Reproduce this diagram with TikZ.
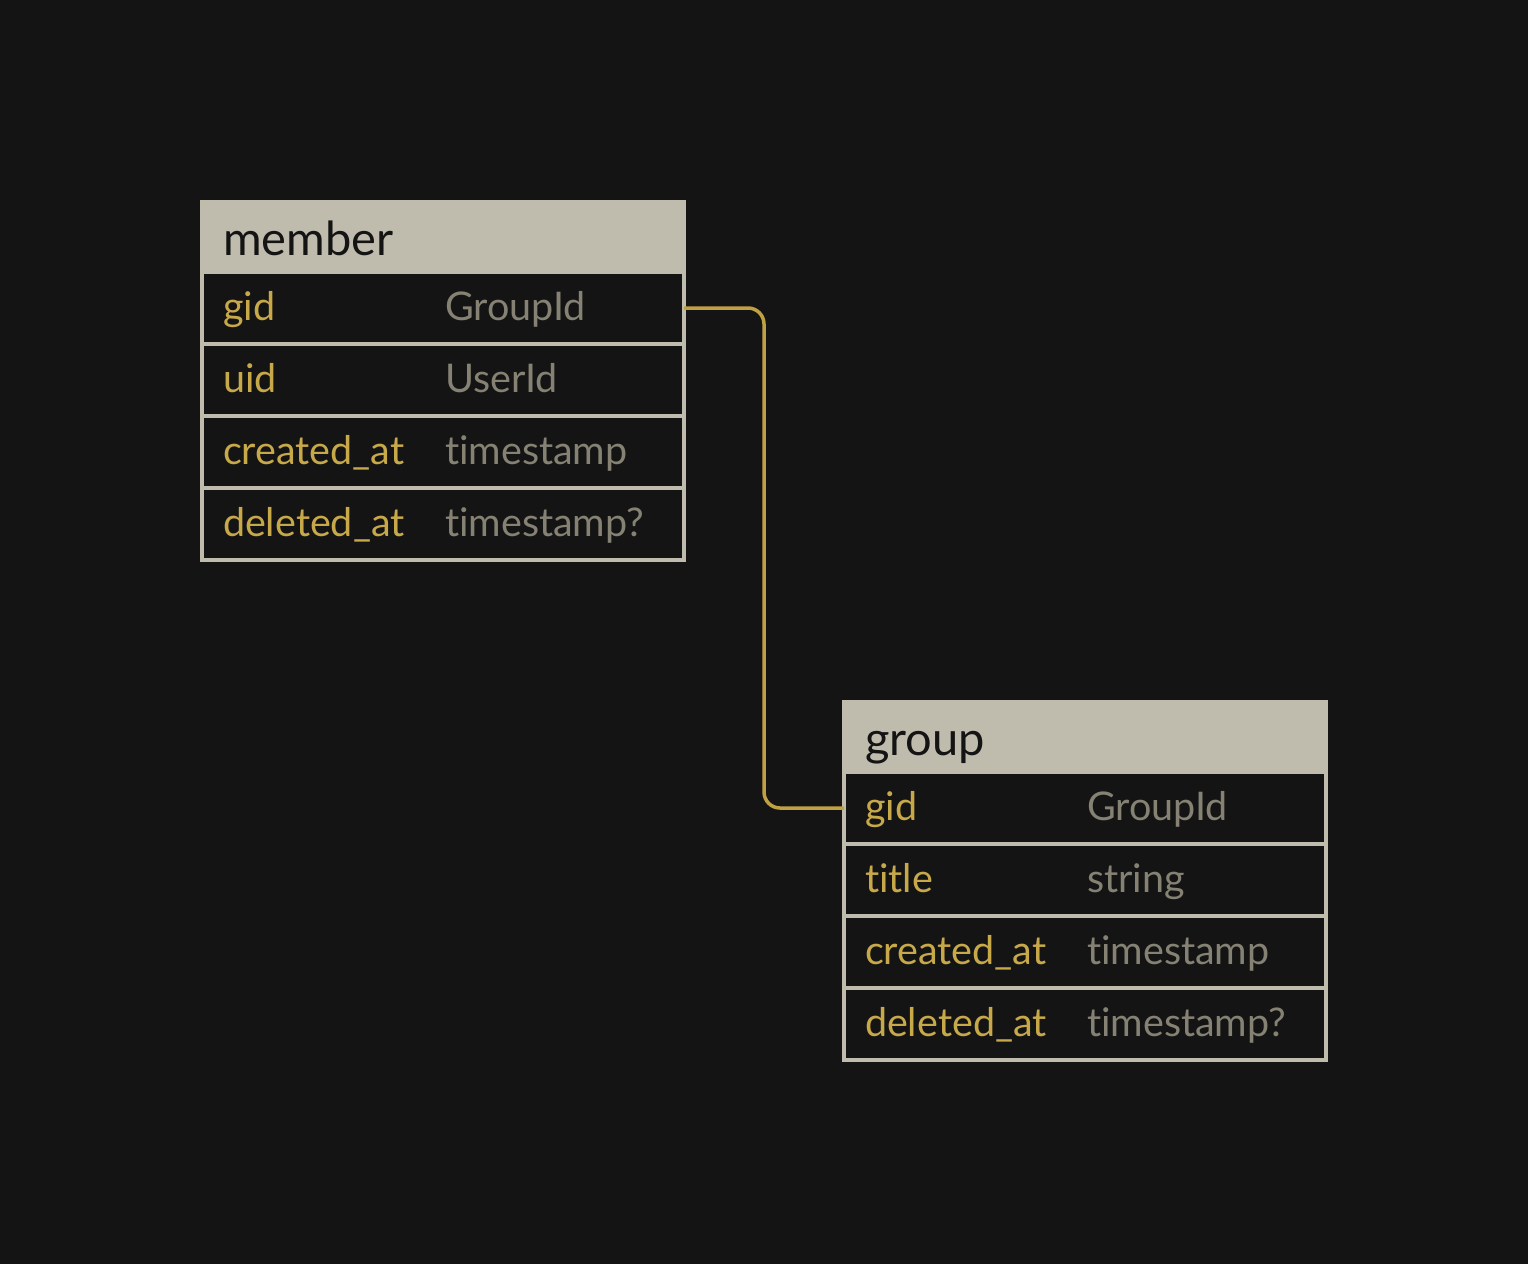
\documentclass[tikz,border=0pt]{standalone}
\usepackage{fontspec}
\setmainfont[Ligatures={NoCommon,NoRare}]{Lato}
\usetikzlibrary{positioning}

\definecolor{canvas}{HTML}{141414}
\definecolor{frame}{HTML}{BFBCAE}
\definecolor{keygold}{HTML}{C8A94A}
\definecolor{typegrey}{HTML}{858274}
\definecolor{linkgold}{HTML}{BFA144}

\newcommand{\fieldrow}[2]{\makebox[222pt][l]{\color{keygold}#1}{\color{typegrey}#2}}

\begin{document}
\begin{tikzpicture}[x=1pt,y=-1pt,
  tablehead/.style={draw=frame,fill=frame,line width=4pt,outer sep=0pt,
    text width=440pt,inner xsep=21pt,inner ysep=0pt,minimum height=70pt,
    align=left,text height=40pt,text depth=4pt,text=canvas,
    font=\fontsize{47}{51}\selectfont,anchor=north west},
  tablerow/.style={draw=frame,fill=canvas,line width=4pt,outer sep=0pt,
    text width=440pt,inner xsep=21pt,inner ysep=0pt,minimum height=72pt,
    align=left,text height=30pt,text depth=6pt,
    font=\fontsize{39.5}{43}\selectfont,below=0pt of #1},
  link/.style={draw=linkgold,line width=3.5pt,rounded corners=16pt}]
\fill[canvas] (0,0) rectangle (1528,1264);
% member table
\node[tablehead] (member) at (202,202) {member};
\node[tablerow=member] (member-gid) {\fieldrow{gid}{GroupId}};
\node[tablerow=member-gid] (member-uid) {\fieldrow{uid}{UserId}};
\node[tablerow=member-uid] (member-created) {\fieldrow{created\_at}{timestamp}};
\node[tablerow=member-created] (member-deleted) {\fieldrow{deleted\_at}{timestamp?}};
% group table
\node[tablehead] (group) at (844,702) {group};
\node[tablerow=group] (group-gid) {\fieldrow{gid}{GroupId}};
\node[tablerow=group-gid] (group-title) {\fieldrow{title}{string}};
\node[tablerow=group-title] (group-created) {\fieldrow{created\_at}{timestamp}};
\node[tablerow=group-created] (group-deleted) {\fieldrow{deleted\_at}{timestamp?}};
% relation
\coordinate (bend) at (764,0);
\draw[link] (member-gid.east) -- (member-gid.east -| bend)
  -- (group-gid.west -| bend) -- (group-gid.west);
\end{tikzpicture}
\end{document}
